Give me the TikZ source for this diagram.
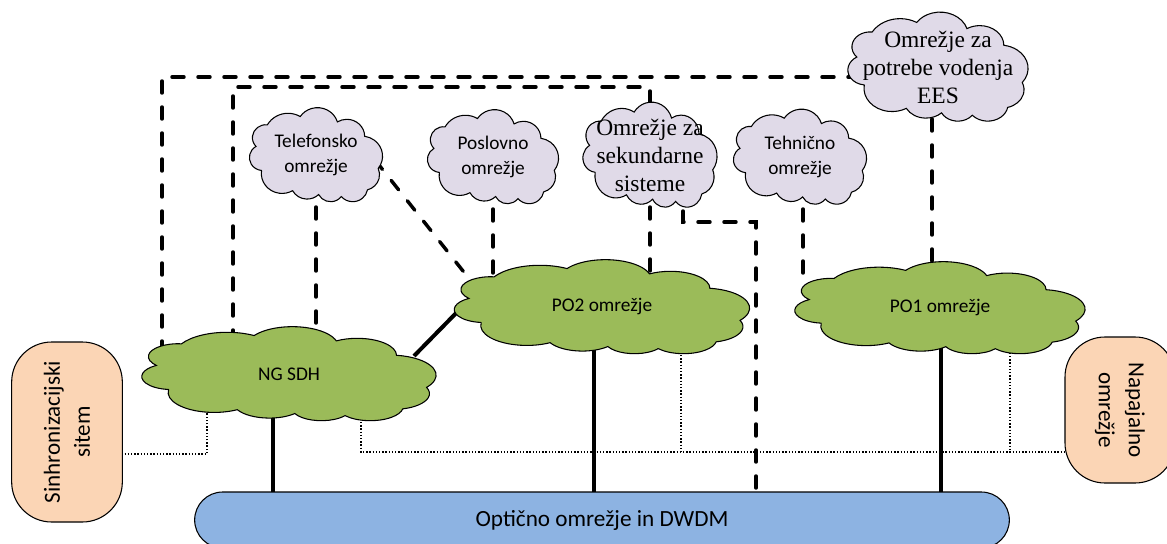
\documentclass[tikz,border=0pt]{standalone}
\usepackage{fontspec}
\setmainfont{Carlito}
\newfontfamily\serifface{Liberation Serif}
\usetikzlibrary{calc}
\definecolor{netgreen}{HTML}{9BBB59}
\definecolor{netlilac}{HTML}{E0DAE8}
\definecolor{netblue}{HTML}{8DB3E2}
\definecolor{netpeach}{HTML}{FBD5B5}
\pgfdeclarelayer{background}
\pgfsetlayers{background,main}

% Cloud outline in a 432 x 432 box, built from elliptical arcs:
% radii, start direction and sweep as seen from each arc's centre.
\newcommand\cloudoutline{(39,143.7)}
\newcommand\cloudarcdef[4]{%
  \pgfmathsetmacro\cloudta{atan2((#1)*sin(#3),(#2)*cos(#3))}%
  \pgfmathsetmacro\cloudtb{atan2((#1)*sin((#3)+(#4)),(#2)*cos((#3)+(#4)))}%
  \pgfmathsetmacro\cloudtb{\cloudtb+360*(\cloudtb<\cloudta)}%
  \edef\cloudarcspec{arc[x radius=#1, y radius=#2, start angle=\cloudta, end angle=\cloudtb]}%
}
\newcommand\cloudarc[4]{\cloudarcdef{#1}{#2}{#3}{#4}%
  \xdef\cloudoutline{\cloudoutline\space\cloudarcspec}}
\cloudarc{67.53}{91.90}{-190.48748}{123.78053}
\cloudarc{53.33}{72.67}{-144.10238}{89.94523}
\cloudarc{43.65}{59.45}{-145.80792}{99.72302}
\cloudarc{48.57}{65.95}{-130.98607}{117.24173}
\cloudarc{53.33}{72.73}{-78.70888}{109.02692}
\cloudarc{67.75}{92.20}{-46.26725}{130.26900}
\cloudarc{57.85}{78.67}{0.62502}{114.03333}
\cloudarc{67.52}{92.15}{22.45160}{115.17255}
\cloudarc{77.20}{105.43}{66.24263}{75.71102}
\cloudarc{43.60}{59.18}{-274.94208}{146.73557}
\cloudarc{43.45}{59.45}{-246.82850}{152.51885}
\xdef\cloudoutline{\cloudoutline\space -- cycle}

\tikzset{
  cloudedge/.style={draw=black, line width=0.8pt},
  coretext/.style={align=center, inner sep=0pt, font=\fontsize{14.5}{18}\selectfont},
  svctext/.style={align=center, inner sep=0pt, font=\fontsize{14.5}{18.75}\selectfont},
  sertext/.style={align=center, inner sep=0pt, font=\serifface\fontsize{17.6}{21}\selectfont},
  sidebox/.style={draw=black, line width=0.8pt, fill=netpeach, rounded corners=30pt,
    align=center, inner sep=0pt, font=\fontsize{17.3}{22.5}\selectfont},
  busbar/.style={draw=black, line width=0.8pt, fill=netblue, rounded corners=21pt,
    inner sep=0pt, font=\fontsize{17.4}{21}\selectfont},
  dashln/.style={line width=2.6pt, line cap=round, dash pattern=on 9pt off 10.5pt},
  solidln/.style={line width=3pt},
  dotln/.style={line width=0.9pt, dash pattern=on 1.1pt off 1.3pt},
}

% cloud with its label: name, fill, text style, centre x, centre y, width, height, label
% (the outline is laid out from the box's lower left corner upwards)
\newcommand\netcloud[8]{%
  \pgfmathsetmacro\cloudsx{#6*0.75/432}%
  \pgfmathsetmacro\cloudsy{#7*0.75/432}%
  \begin{scope}[shift={(#4-#6/2,#5+#7/2)}, x=\cloudsx pt, y=\cloudsy pt]
    \filldraw[cloudedge, fill=#2] \cloudoutline;
  \end{scope}
  \node[#3] (#1) at (#4,#5) {#8};
}

\begin{document}
\begin{tikzpicture}[x=0.75pt, y=-0.75pt]
\path[use as bounding box] (0,0) rectangle (1167,543);

% transport layer
\node[busbar, minimum width=611pt, minimum height=42pt] (dwdm) at (602,520) {Optično omrežje in DWDM};

% side systems
\node[sidebox, rotate=90, minimum width=135pt, minimum height=83pt] (sync) at (67,432) {Sinhronizacijski\\sitem};
\node[sidebox, rotate=-90, minimum width=109.5pt, minimum height=82.5pt] (pow) at (1120,410) {Napajalno\\omrežje};

% core networks
\netcloud{ngsdh}{netgreen}{coretext}{289}{374}{294}{94}{NG SDH}
\netcloud{po2}{netgreen}{coretext}{602}{307}{295}{94}{PO2 omrežje}
\netcloud{po1}{netgreen}{coretext}{940}{308}{290}{92}{PO1 omrežje}

% service networks
\netcloud{tel}{netlilac}{svctext}{316}{155}{133}{94}{Telefonsko\\omrežje}
\netcloud{pos}{netlilac}{svctext}{493}{157}{131}{94}{Poslovno\\omrežje}
\netcloud{sek}{netlilac}{sertext}{650}{155}{134}{105}{Omrežje za\\sekundarne\\sisteme}
\netcloud{teh}{netlilac}{svctext}{800}{157}{133}{95}{Tehnično\\omrežje}
\netcloud{ees}{netlilac}{sertext}{938}{67}{180}{109}{Omrežje za\\potrebe vodenja\\EES}

\begin{pgfonlayer}{background}
  \fill[white] (0,0) rectangle (1167,543);
  % supply and synchronisation links
  \draw[dotln] ($(sync.center)+(0,22)$) -| ($(ngsdh.center)+(-82,0)$);
  \draw[dotln] ($(ngsdh.center)+(72,0)$) |- ($(pow.center)+(0,42)$);
  \draw[dotln] ($(po2.center)+(79,0)$) -- ++(0,145);
  \draw[dotln] ($(po1.center)+(70,0)$) -- ++(0,144);
  % service links
  \draw[dashln] ($(ees.center)+(0,10)$) -| ($(ngsdh.center)+(-127,0)$);
  \draw[dashln] (sek.center) |- ($(ngsdh.center)+(-56,-287)$) -- ($(ngsdh.center)+(-56,0)$);
  \draw[dashln] (tel.center) -- (tel.center |- ngsdh.center);
  \draw[dashln] ($(tel.center)+(59,5)$) -- ($(po2.center)+(-116,-7)$);
  \draw[dashln] (pos.center) -- (pos.center |- po2.center);
  \draw[dashln] (sek.center) -- (sek.center |- po2.center);
  \draw[dashln] ($(sek.center)+(33,30)$) |- ($(dwdm.center)+(154,-298)$) -- ($(dwdm.center)+(154,0)$);
  \draw[dashln] ($(teh.center)+(3,0)$) -- ($(po1.center)+(-137,-27)$);
  \draw[dashln] ($(ees.center)+(-6,0)$) -- ($(po1.center)+(-8,0)$);
  % trunk links
  \draw[solidln] ($(ngsdh.center)+(-16,0)$) coordinate (t1) -- (t1 |- dwdm.center);
  \draw[solidln] ($(ngsdh.center)+(125,-18)$) -- ($(po2.center)+(-137,-3)$);
  \draw[solidln] ($(po2.center)+(-8,0)$) coordinate (t2) -- (t2 |- dwdm.center);
  \draw[solidln] ($(po1.center)+(1,0)$) coordinate (t3) -- (t3 |- dwdm.center);
\end{pgfonlayer}
\end{tikzpicture}
\end{document}
